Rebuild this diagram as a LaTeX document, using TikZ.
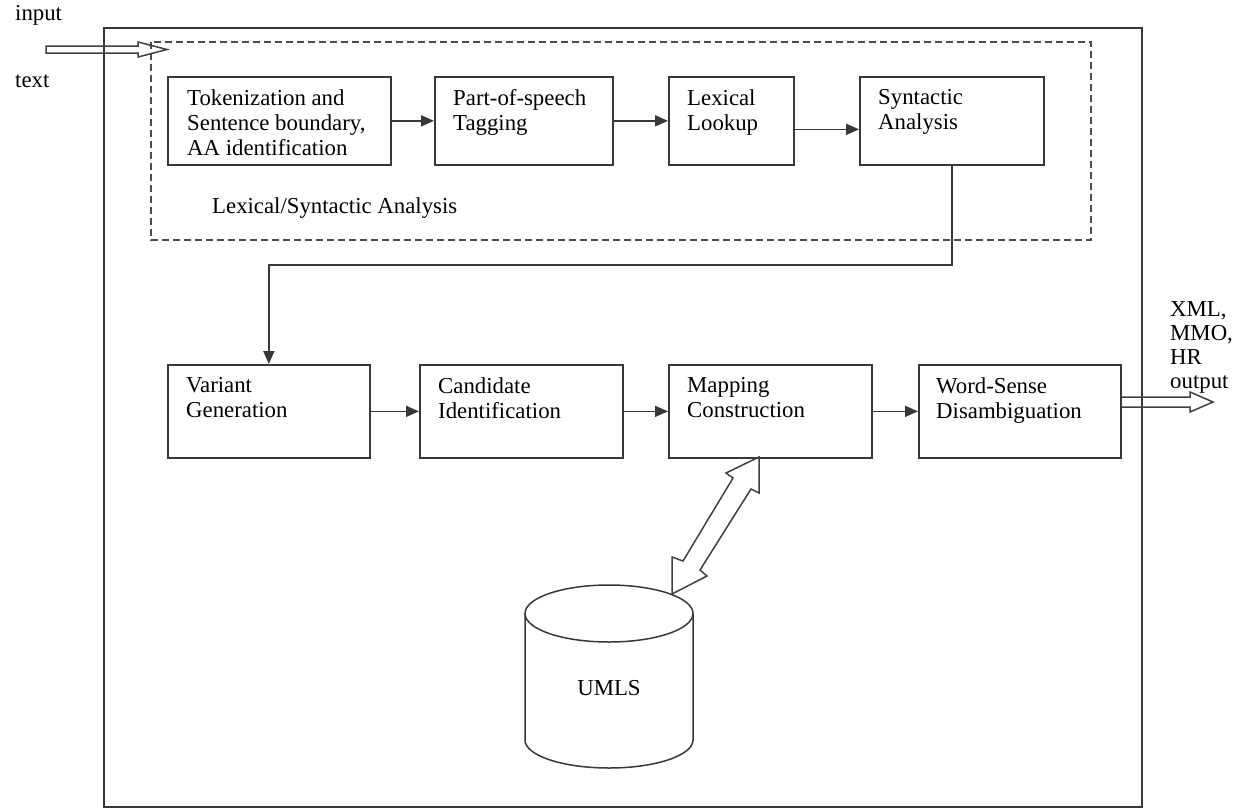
\documentclass[tikz,border=0pt]{standalone}
\usepackage{fontspec}
\setmainfont{Liberation Serif}
\usetikzlibrary{arrows.meta,calc}
\begin{document}
\begin{tikzpicture}[x=1pt,y=-1pt,
  line/.style={draw=black!78, line width=1.7pt},
  box/.style={line, rectangle, anchor=north west, inner sep=0pt},
  txt/.style={anchor=north west, inner sep=0pt, align=left, text=black,
    font=\fontsize{22.8}{25}\selectfont},
  free/.style={inner sep=0pt, text=black, font=\fontsize{22.8}{25}\selectfont},
  conn/.style={line, -{Triangle[length=13pt,width=11pt]}},
  hollow/.style={draw=black!75, line width=1.5pt, line join=miter},
  dashbox/.style={draw=black!70, line width=1.6pt, dash pattern=on 7pt off 4pt}
]
\useasboundingbox (0,0) rectangle (1234,809);
% outer frame and dashed group
\draw[line] (104,28) rectangle (1142,807);
\draw[dashbox] (151,42) rectangle (1091,240);

% top row
\node[box, minimum width=223pt, minimum height=88pt] (b1) at (167,76) {};
\node[box, minimum width=178pt, minimum height=88pt] (b2) at (434,76) {};
\node[box, minimum width=125pt, minimum height=88pt] (b3) at (668,76) {};
\node[box, minimum width=184pt, minimum height=88pt] (b4) at (859,76) {};
\node[txt] (t1) at ([shift={(20pt,-13.5pt)}]b1.north west) {Tokenization and\\Sentence boundary,\\AA identification};
\node[txt] (t2) at ([shift={(19pt,-13.5pt)}]b2.north west) {Part-of-speech\\Tagging};
\node[txt] (t3) at ([shift={(19pt,-13.5pt)}]b3.north west) {Lexical\\Lookup};
\node[txt] (t4) at ([shift={(19pt,-13.5pt)}]b4.north west) {Syntactic\\Analysis};

% bottom row
\node[box, minimum width=202pt, minimum height=93pt] (v1) at (167,364) {};
\node[box, minimum width=203pt, minimum height=93pt] (v2) at (419,364) {};
\node[box, minimum width=203pt, minimum height=93pt] (v3) at (668,364) {};
\node[box, minimum width=202pt, minimum height=93pt] (v4) at (918,364) {};
\node[txt] (s1) at ([shift={(19pt,-13.5pt)}]v1.north west) {Variant\\Generation};
\node[txt] (s2) at ([shift={(19pt,-13.5pt)}]v2.north west) {Candidate\\Identification};
\node[txt] (s3) at ([shift={(19pt,-13.5pt)}]v3.north west) {Mapping\\Construction};
\node[txt] (s4) at ([shift={(18pt,-13.5pt)}]v4.north west) {Word-Sense\\Disambiguation};

% labels
\node[free, anchor=base west] (lin) at (15,20) {input};
\node[free, anchor=base west] (ltx) at (15,87) {text};
\node[free, anchor=base west] (lgrp) at (212,213) {Lexical/Syntactic Analysis};
\node[txt, font=\fontsize{22.8}{24}\selectfont] (lout) at (1170,301.5) {XML,\\MMO,\\HR\\output};

% connectors
\draw[conn] (b1.east) -- (b2.west);
\draw[conn] (b2.east) -- (b3.west);
\draw[conn] ([yshift=-8.5pt]b3.east) -- ([yshift=-8.5pt]b3.east -| b4.west);
\coordinate (bendy) at (0,265);
\draw[conn] (b4.south) -- (b4.south |- bendy) -| (v1.north);
\draw[conn] (v1.east) -- (v2.west);
\draw[conn] (v2.east) -- (v3.west);
\draw[conn] (v3.east) -- (v4.west);

% input hollow arrow
\coordinate (inT) at (167,49.5);
\draw[hollow] (46,46) -- (138,46) -- (138,42) -- (inT) -- (138,57) -- (138,53) -- (46,53) -- cycle;

% output hollow arrow
\coordinate (outT) at (1213,402);
\draw[hollow] (v4.east |- 0,397) -- (1190,397) -- (1190,392) -- (outT)
  -- (1190,412) -- (1190,407) -- (v4.east |- 0,407);

% UMLS cylinder
\node[free] (umls) at (609,688) {UMLS};
\draw[line, line width=1.5pt] (609,613.5) ellipse [x radius=84pt, y radius=28.5pt];
\draw[line, line width=1.5pt] (525,613.5) -- (525,740) arc[start angle=180, end angle=360, x radius=84pt, y radius=28pt] -- (693,613.5);

% double hollow arrow between mapping and UMLS
\coordinate (dT1) at (759,457);
\coordinate (dT2) at (672,594);
\draw[hollow] (dT1) -- (759,493) -- (751,489) -- (700,570) -- (707,576) -- (dT2)
  -- (672,557) -- (683,561) -- (733,478) -- (726,473) -- cycle;
\end{tikzpicture}
\end{document}
